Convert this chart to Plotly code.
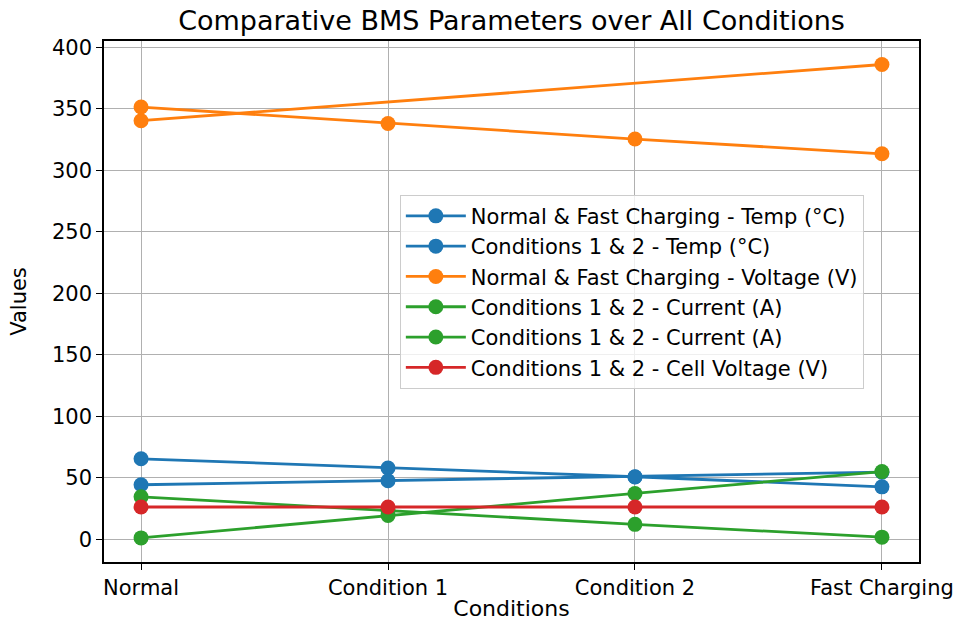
import plotly.graph_objects as go

conditions = ["Normal", "Condition 1", "Condition 2", "Fast Charging"]
nf_conditions = ["Normal", "Fast Charging"]

temp_a = [65.4, 57.9, 50.8, 42.6]
temp_b = [44.3, 47.6, 50.6, 54.5]
voltage_nf = [340.2, 385.9]
voltage_c = [351.3, 338.0, 325.3, 313.3]
current_a = [34.5, 23.3, 12.1, 1.7]
current_b = [1.1, 19.3, 37.2, 55.0]
cell_voltage = [26.2, 26.2, 26.2, 26.2]

BLUE, ORANGE, GREEN, RED = "#1f77b4", "#ff7f0e", "#2ca02c", "#d62728"

series = [
    (conditions, temp_a, BLUE, "Normal & Fast Charging - Temp (°C)", True),
    (conditions, temp_b, BLUE, "Conditions 1 & 2 - Temp (°C)", True),
    (nf_conditions, voltage_nf, ORANGE, "Normal & Fast Charging - Voltage (V)", True),
    (conditions, voltage_c, ORANGE, "Conditions 1 & 2 - Voltage (V)", False),
    (conditions, current_a, GREEN, "Conditions 1 & 2 - Current (A)", True),
    (conditions, current_b, GREEN, "Conditions 1 & 2 - Current (A)", True),
    (conditions, cell_voltage, RED, "Conditions 1 & 2 - Cell Voltage (V)", True),
]

fig = go.Figure()
for xs, ys, color, name, show in series:
    fig.add_trace(go.Scatter(
        x=xs, y=ys, mode="lines+markers", name=name, showlegend=show,
        line=dict(color=color, width=2.8),
        marker=dict(color=color, size=15),
    ))

FONT = "DejaVu Sans"
axis_common = dict(
    showline=True, linecolor="black", linewidth=1.5, mirror=True,
    showgrid=True, gridcolor="#b0b0b0", gridwidth=1.2,
    ticks="outside", ticklen=6, tickcolor="black",
    tickfont=dict(family=FONT, size=21, color="black"),
    zeroline=False, automargin=False,
)

fig.update_layout(
    width=961, height=621,
    paper_bgcolor="white", plot_bgcolor="white",
    margin=dict(l=104, r=42, t=41, b=59),
    title=dict(text="Comparative BMS Parameters over All Conditions",
               xref="paper", x=0.5, xanchor="center", y=0.967, yanchor="middle",
               font=dict(family=FONT, size=27, color="black")),
    xaxis=dict(
        type="category", categoryorder="array", categoryarray=conditions,
        range=[-0.15, 3.15],
        title=dict(text="Conditions", font=dict(family=FONT, size=22, color="black"), standoff=2),
        **axis_common,
    ),
    yaxis=dict(
        range=[-18.5, 405],
        tickvals=[0, 50, 100, 150, 200, 250, 300, 350, 400],
        title=dict(text="Values", font=dict(family=FONT, size=21, color="black"), standoff=20),
        **axis_common,
    ),
    legend=dict(
        x=0.363, y=0.705, xanchor="left", yanchor="top",
        bgcolor="rgba(255,255,255,0.8)", bordercolor="#cccccc", borderwidth=1,
        font=dict(family=FONT, size=21, color="black"),
        tracegroupgap=0, itemwidth=60,
    ),
    showlegend=True,
)

fig.write_html("out.html", config={"displayModeBar": False},
               post_script="document.body.style.margin='0';")
